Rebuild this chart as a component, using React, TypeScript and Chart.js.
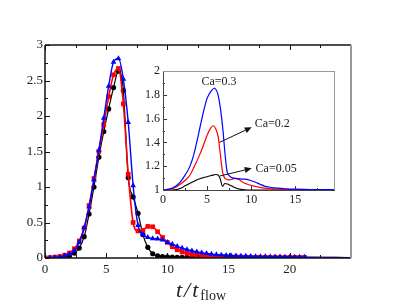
import React, { useEffect, useRef } from 'react';
import Chart from 'chart.js/auto';

const FONT = "'Liberation Serif', 'Times New Roman', serif";

// ---------- main panel data ----------
const mainT = [0, 0.4, 0.8, 1.2, 1.6, 2, 2.4, 2.8, 3.2, 3.6, 4, 4.4, 4.8, 5.2, 5.6, 6, 6.4, 6.8, 7.2, 7.6, 8, 8.4, 8.8, 9.2, 9.6, 10, 10.4, 10.8, 11.2, 11.6, 12, 12.4, 12.8, 13.2, 13.6, 14, 14.4, 14.8, 15.2, 15.6, 16, 16.4, 16.8, 17.2, 17.6, 18, 18.4, 18.8, 19.2, 19.6, 20, 20.4, 20.8, 21.2, 25];
const blackSeries = [0, 0, 0, 0.005, 0.01, 0.03, 0.07, 0.14, 0.3, 0.62, 1.0, 1.42, 1.78, 2.1, 2.4, 2.63, 2.36, 1.13, 0.86, 0.63, 0.33, 0.15, 0.06, 0.03, 0.02, 0.015, 0.012, 0.01, 0.01, 0.009, 0.008, 0.008, 0.007, 0.007, 0.006, 0.006, 0.005, 0.005, 0.005, 0.004, 0.004, 0.004, 0.004, 0.003, 0.003, 0.003, 0.003, 0.003, 0.003, 0.002, 0.002, 0.002, 0.002, 0.002, 0.001];
const redSeries = [0, 0.005, 0.012, 0.02, 0.04, 0.07, 0.13, 0.24, 0.42, 0.74, 1.12, 1.5, 1.88, 2.27, 2.58, 2.67, 2.17, 1.18, 0.5, 0.38, 0.39, 0.445, 0.44, 0.37, 0.29, 0.22, 0.16, 0.115, 0.085, 0.065, 0.05, 0.04, 0.033, 0.028, 0.024, 0.02, 0.018, 0.016, 0.015, 0.014, 0.013, 0.012, 0.011, 0.01, 0.01, 0.01, 0.009, 0.009, 0.009, 0.008, 0.008, 0.008, 0.008, 0.008, 0.003];
const blueSeries = [0, 0.003, 0.008, 0.015, 0.03, 0.055, 0.1, 0.22, 0.43, 0.72, 1.1, 1.52, 1.97, 2.42, 2.76, 2.81, 2.52, 1.91, 1.02, 0.46, 0.33, 0.29, 0.275, 0.27, 0.255, 0.22, 0.195, 0.165, 0.14, 0.12, 0.1, 0.088, 0.075, 0.064, 0.055, 0.048, 0.043, 0.038, 0.034, 0.031, 0.028, 0.026, 0.024, 0.022, 0.02, 0.019, 0.018, 0.017, 0.016, 0.015, 0.014, 0.013, 0.012, 0.012, 0.004];

const mainXTickLabels = [0, 5, 10, 15, 20];
const mainXMajorTicks = [0, 5, 10, 15, 20, 25];
const mainXMinorTicks = [2.5, 7.5, 12.5, 17.5, 22.5];
const mainYMajorTicks = [0, 0.5, 1, 1.5, 2, 2.5, 3];
const mainYMinorTicks = [0.25, 0.75, 1.25, 1.75, 2.25, 2.75];

// ---------- inset data ----------
const insetBlueT = [0, 0.5, 1, 1.5, 2, 2.5, 3, 3.5, 4, 4.5, 5, 5.5, 5.8, 6.2, 6.5, 6.8, 7, 7.25, 7.5, 8, 8.5, 9, 9.5, 10, 10.5, 11, 11.5, 12, 13, 14, 15, 16, 17, 18, 19.5];
const insetBlue = [1, 1.005, 1.015, 1.035, 1.07, 1.125, 1.19, 1.3, 1.46, 1.63, 1.77, 1.835, 1.855, 1.81, 1.69, 1.5, 1.33, 1.16, 1.12, 1.1, 1.095, 1.092, 1.09, 1.078, 1.065, 1.048, 1.033, 1.025, 1.015, 1.01, 1.007, 1.005, 1.004, 1.003, 1.003];
const insetRedT = [0, 0.5, 1, 1.5, 2, 2.5, 3, 3.5, 4, 4.5, 5, 5.4, 5.7, 6, 6.25, 6.5, 6.75, 7, 7.5, 8, 8.25, 8.5, 9, 9.5, 10, 10.5, 11, 11.5, 12, 13, 14, 15, 17, 19.5];
const insetRed = [1, 1.003, 1.01, 1.025, 1.05, 1.08, 1.12, 1.19, 1.27, 1.36, 1.46, 1.52, 1.54, 1.51, 1.45, 1.3, 1.15, 1.1, 1.085, 1.095, 1.098, 1.092, 1.068, 1.05, 1.038, 1.03, 1.022, 1.016, 1.012, 1.007, 1.004, 1.003, 1.002, 1.002];
const insetBlackT = [0, 1, 1.5, 2, 2.5, 3, 3.5, 4, 4.5, 5, 5.5, 6, 6.3, 6.5, 6.75, 7, 7.3, 7.6, 8, 8.4, 9, 9.5, 19.5];
const insetBlack = [1, 1, 1.003, 1.015, 1.035, 1.055, 1.072, 1.09, 1.102, 1.112, 1.122, 1.13, 1.122, 1.09, 1.03, 1.055, 1.05, 1.04, 1.025, 1.012, 1.003, 1, 1];

const insetXTickLabels = [0, 5, 10, 15];
const insetXMajorTicks = [0, 5, 10, 15];
const insetXMinorTicks = [2.5, 7.5, 12.5, 17.5];
const insetYMajorTicks = [1, 1.2, 1.4, 1.6, 1.8, 2];
const insetYMinorTicks = [1.1, 1.3, 1.5, 1.7, 1.9];

// labels: [text, x, y, align]
const caLabels: [string, number, number, CanvasTextAlign][] = [
  ['Ca=0.3', 6.35, 1.91, 'center'],
  ['Ca=0.2', 10.4, 1.555, 'left'],
  ['Ca=0.05', 10.5, 1.18, 'left'],
];
// arrows: [x0, y0, x1, y1]
const caArrows: [number, number, number, number][] = [
  [6.4, 1.4, 10.06, 1.527],
  [6.46, 1.118, 10.06, 1.182],
];

const fmt = (v: number) => String(Math.round(v * 100) / 100);

function seg(ctx: CanvasRenderingContext2D, x0: number, y0: number, x1: number, y1: number) {
  ctx.beginPath();
  ctx.moveTo(x0, y0);
  ctx.lineTo(x1, y1);
  ctx.stroke();
}

const mainDecor = {
  id: 'mainDecor',
  afterDraw(chart: any) {
    const { ctx, chartArea: a, scales } = chart;
    const sx = scales.x, sy = scales.y;
    ctx.save();
    ctx.strokeStyle = '#111';
    ctx.lineWidth = 1;
    for (const v of mainXMajorTicks) {
      const p = Math.round(sx.getPixelForValue(v)) + 0.5;
      seg(ctx, p, a.bottom, p, a.bottom - 5);
      seg(ctx, p, a.top, p, a.top + 5);
    }
    for (const v of mainXMinorTicks) {
      const p = Math.round(sx.getPixelForValue(v)) + 0.5;
      seg(ctx, p, a.bottom, p, a.bottom - 3);
      seg(ctx, p, a.top, p, a.top + 3);
    }
    for (const v of mainYMajorTicks) {
      const p = Math.round(sy.getPixelForValue(v)) + 0.5;
      seg(ctx, a.left, p, a.left + 5, p);
    }
    for (const v of mainYMinorTicks) {
      const p = Math.round(sy.getPixelForValue(v)) + 0.5;
      seg(ctx, a.left, p, a.left + 3, p);
    }
    ctx.lineWidth = 1.5;
    ctx.strokeStyle = '#111';
    seg(ctx, a.left, a.top, a.left, a.bottom);
    seg(ctx, a.left, a.bottom, a.right, a.bottom);
    seg(ctx, a.left, a.top, a.right, a.top);
    ctx.strokeStyle = '#999';
    ctx.lineWidth = 2;
    seg(ctx, a.right, a.top, a.right, a.bottom);

    // axis title t/t_flow
    ctx.fillStyle = '#222';
    ctx.textBaseline = 'alphabetic';
    ctx.font = `italic 22px ${FONT}`;
    (ctx as any).letterSpacing = '2px';
    const main = 't/t';
    const w1 = ctx.measureText(main).width;
    ctx.font = `14px ${FONT}`;
    (ctx as any).letterSpacing = '0px';
    const sub = 'flow';
    const w2 = ctx.measureText(sub).width;
    const cx = 201;
    const start = cx - (w1 + w2) / 2;
    ctx.font = `italic 22px ${FONT}`;
    (ctx as any).letterSpacing = '2px';
    ctx.fillText(main, start, 297);
    (ctx as any).letterSpacing = '0px';
    ctx.font = `14px ${FONT}`;
    ctx.fillText(sub, start + w1, 300);
    ctx.restore();
  },
};

const insetDecor = {
  id: 'insetDecor',
  afterDraw(chart: any) {
    const { ctx, chartArea: a, scales } = chart;
    const sx = scales.x, sy = scales.y;
    ctx.save();
    ctx.strokeStyle = '#333';
    ctx.lineWidth = 1;
    for (const v of insetXMajorTicks) {
      const p = Math.round(sx.getPixelForValue(v)) + 0.5;
      seg(ctx, p, a.bottom, p, a.bottom - 4);
    }
    for (const v of insetXMinorTicks) {
      const p = Math.round(sx.getPixelForValue(v)) + 0.5;
      seg(ctx, p, a.bottom, p, a.bottom - 2);
    }
    for (const v of insetYMajorTicks) {
      const p = Math.round(sy.getPixelForValue(v)) + 0.5;
      seg(ctx, a.left, p, a.left + 4, p);
    }
    for (const v of insetYMinorTicks) {
      const p = Math.round(sy.getPixelForValue(v)) + 0.5;
      seg(ctx, a.left, p, a.left + 2, p);
    }
    ctx.lineWidth = 1;
    ctx.strokeStyle = '#444';
    seg(ctx, a.left + 0.5, a.top, a.left + 0.5, a.bottom);
    seg(ctx, a.left, a.bottom + 0.5, a.right, a.bottom + 0.5);
    ctx.strokeStyle = '#999';
    seg(ctx, a.left, a.top + 0.5, a.right, a.top + 0.5);
    seg(ctx, a.right - 0.5, a.top, a.right - 0.5, a.bottom);

    // arrows
    ctx.strokeStyle = '#111';
    ctx.fillStyle = '#111';
    ctx.lineWidth = 1;
    for (const [x0, y0, x1, y1] of caArrows) {
      const px0 = sx.getPixelForValue(x0), py0 = sy.getPixelForValue(y0);
      const px1 = sx.getPixelForValue(x1), py1 = sy.getPixelForValue(y1);
      const ang = Math.atan2(py1 - py0, px1 - px0);
      const L = 7, W = 3;
      const bx = px1 - L * Math.cos(ang), by = py1 - L * Math.sin(ang);
      seg(ctx, px0, py0, bx, by);
      ctx.beginPath();
      ctx.moveTo(px1, py1);
      ctx.lineTo(bx + W * Math.sin(ang), by - W * Math.cos(ang));
      ctx.lineTo(bx - W * Math.sin(ang), by + W * Math.cos(ang));
      ctx.closePath();
      ctx.fill();
    }
    // labels
    ctx.font = `12px ${FONT}`;
    ctx.fillStyle = '#222';
    ctx.textBaseline = 'middle';
    for (const [txt, x, y, align] of caLabels) {
      ctx.textAlign = align;
      ctx.fillText(txt, sx.getPixelForValue(x), sy.getPixelForValue(y));
    }
    ctx.restore();
  },
};

export default function App() {
  const mainRef = useRef<HTMLCanvasElement>(null);
  const insetRef = useRef<HTMLCanvasElement>(null);

  useEffect(() => {
    const mk = (ts: number[], ys: number[]) => ts.map((t, i) => ({ x: t, y: ys[i] }));
    const lastIdx = mainT.length - 1;
    const main = new Chart(mainRef.current as HTMLCanvasElement, {
      type: 'line',
      data: {
        datasets: [
          {
            data: mk(mainT, blueSeries),
            borderColor: '#0000ff',
            backgroundColor: '#0000ff',
            borderWidth: 1.4,
            pointStyle: 'triangle',
            pointRadius: (c: any) => (c.dataIndex === lastIdx ? 0 : 3.3),
            pointBorderWidth: 0,
            cubicInterpolationMode: 'monotone',
          },
          {
            data: mk(mainT, redSeries),
            borderColor: '#ff0000',
            backgroundColor: '#ff0000',
            borderWidth: 1.6,
            pointStyle: 'rect',
            pointRadius: (c: any) => (c.dataIndex === lastIdx ? 0 : 3.3),
            pointBorderWidth: 0,
            cubicInterpolationMode: 'monotone',
          },
          {
            data: mk(mainT, blackSeries),
            borderColor: '#000000',
            backgroundColor: '#000000',
            borderWidth: 1.2,
            pointStyle: 'circle',
            pointRadius: (c: any) => (c.dataIndex === lastIdx ? 0 : 2.6),
            pointBorderWidth: 0,
            cubicInterpolationMode: 'monotone',
          },
        ],
      } as any,
      options: {
        animation: false,
        responsive: false,
        events: [],
        layout: { padding: { top: 45, right: 44, left: 0, bottom: 0 } },
        plugins: { legend: { display: false }, tooltip: { enabled: false } },
        scales: {
          x: {
            type: 'linear',
            min: 0,
            max: 25,
            grid: { display: false, drawTicks: false },
            border: { display: false },
            afterBuildTicks: (s: any) => { s.ticks = mainXTickLabels.map((v) => ({ value: v })); },
            ticks: {
              padding: 4,
              maxRotation: 0,
              autoSkip: false,
              color: '#222',
              font: { family: FONT, size: 13 },
              callback: (v: any) => fmt(Number(v)),
            },
            afterFit: (s: any) => { s.height = 47; },
          },
          y: {
            min: 0,
            max: 3,
            grid: { display: false, drawTicks: false },
            border: { display: false },
            afterBuildTicks: (s: any) => { s.ticks = mainYMajorTicks.map((v) => ({ value: v })); },
            ticks: {
              padding: 2,
              color: '#222',
              font: { family: FONT, size: 13 },
              callback: (v: any) => fmt(Number(v)),
            },
            afterFit: (s: any) => { s.width = 45; },
          },
        },
      } as any,
      plugins: [mainDecor],
    });

    const inset = new Chart(insetRef.current as HTMLCanvasElement, {
      type: 'line',
      data: {
        datasets: [
          { data: mk(insetBlueT, insetBlue), borderColor: '#0000ff', borderWidth: 1.2, pointRadius: 0, cubicInterpolationMode: 'monotone' },
          { data: mk(insetRedT, insetRed), borderColor: '#ff0000', borderWidth: 1.2, pointRadius: 0, cubicInterpolationMode: 'monotone' },
          { data: mk(insetBlackT, insetBlack), borderColor: '#000000', borderWidth: 1.1, pointRadius: 0, cubicInterpolationMode: 'monotone' },
        ],
      } as any,
      options: {
        animation: false,
        responsive: false,
        events: [],
        layout: { padding: { top: 11, right: 10, left: 0, bottom: 0 } },
        plugins: { legend: { display: false }, tooltip: { enabled: false } },
        scales: {
          x: {
            type: 'linear',
            min: 0,
            max: 19.5,
            grid: { display: false, drawTicks: false },
            border: { display: false },
            afterBuildTicks: (s: any) => { s.ticks = insetXTickLabels.map((v) => ({ value: v })); },
            ticks: {
              padding: 3,
              maxRotation: 0,
              autoSkip: false,
              color: '#222',
              font: { family: FONT, size: 12 },
              callback: (v: any) => fmt(Number(v)),
            },
            afterFit: (s: any) => { s.height = 20; },
          },
          y: {
            min: 1,
            max: 2,
            grid: { display: false, drawTicks: false },
            border: { display: false },
            afterBuildTicks: (s: any) => { s.ticks = insetYMajorTicks.map((v) => ({ value: v })); },
            ticks: {
              padding: 3,
              color: '#222',
              font: { family: FONT, size: 12 },
              callback: (v: any) => fmt(Number(v)),
            },
            afterFit: (s: any) => { s.width = 33; },
          },
        },
      } as any,
      plugins: [insetDecor],
    });

    return () => {
      main.destroy();
      inset.destroy();
    };
  }, []);

  return (
    <div style={{ position: 'absolute', left: 0, top: 0, width: 395, height: 305, background: '#fff' }}>
      <canvas ref={mainRef} width={395} height={305} style={{ position: 'absolute', left: 0, top: 0, width: 395, height: 305 }} />
      <canvas ref={insetRef} width={215} height={150} style={{ position: 'absolute', left: 130, top: 60, width: 215, height: 150 }} />
    </div>
  );
}
